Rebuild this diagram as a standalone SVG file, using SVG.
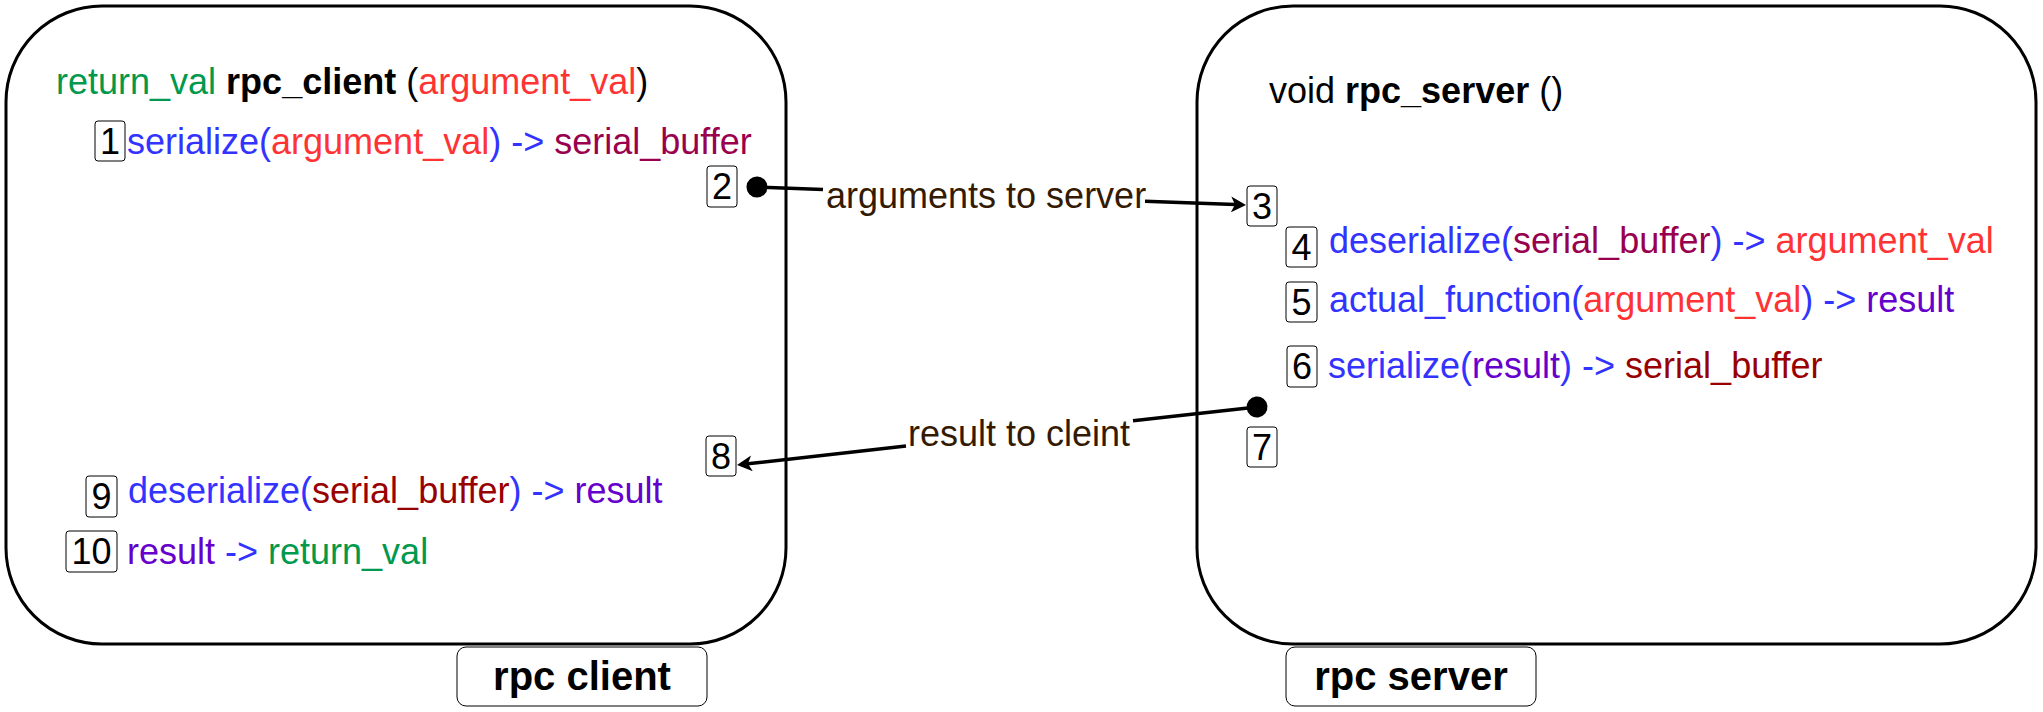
<svg xmlns="http://www.w3.org/2000/svg" width="2043" height="712" viewBox="0 0 2043 712">
<style>
text{font-family:"Liberation Sans",Arial,Helvetica,sans-serif;font-size:36px;fill:#000}
.frame{fill:#fff;stroke:#000;stroke-width:3}
.tag{fill:#fff;stroke:#000;stroke-width:1}
.num{fill:#fff;stroke:#000;stroke-width:1}
.n{text-anchor:middle}
.title{font-weight:bold;font-size:40px;text-anchor:middle}
.b{font-weight:bold}
.g{fill:#00994D}
.r{fill:#FF3333}
.bl{fill:#3333FF}
.m{fill:#99004D}
.dr{fill:#990000}
.p{fill:#6600CC}
.lbl{fill:#331A00}
.edge{fill:none;stroke:#000;stroke-width:3.5}
</style>
<defs>
<marker id="dot" markerUnits="userSpaceOnUse" markerWidth="22" markerHeight="22" refX="11" refY="11" orient="auto"><circle cx="11" cy="11" r="10.5" fill="#000"/></marker>
<marker id="arrow" markerUnits="userSpaceOnUse" markerWidth="16" markerHeight="16" refX="11" refY="8" orient="auto"><path d="M0,0 L15,8 L0,16 L4,8 Z" fill="#000"/></marker>
</defs>
<g id="client">
<rect class="frame" x="6" y="6" width="780" height="638" rx="96" ry="96"/>
<text x="56" y="94"><tspan class="g">return_val</tspan> <tspan class="b">rpc_client</tspan> (<tspan class="r">argument_val</tspan>)</text>
</g>
<g id="client-label">
<rect class="tag" x="457" y="647" width="250" height="59" rx="9" ry="9"/>
<text class="title" x="582" y="690">rpc client</text>
</g>
<g id="server">
<rect class="frame" x="1197" y="6" width="839" height="638" rx="96" ry="96"/>
<text x="1269" y="103">void <tspan class="b">rpc_server</tspan> ()</text>
</g>
<g id="server-label">
<rect class="tag" x="1286" y="647" width="250" height="59" rx="9" ry="9"/>
<text class="title" x="1411" y="690">rpc server</text>
</g>
<g id="step1">
<rect class="num" x="95" y="121" width="30" height="40" rx="3"/>
<text class="n" x="110" y="153.5">1</text>
<text x="127" y="154"><tspan class="bl">serialize(</tspan><tspan class="r">argument_val</tspan><tspan class="bl">) -&gt; </tspan><tspan class="m">serial_buffer</tspan></text>
</g>
<g id="step2">
<rect class="num" x="707" y="166" width="30" height="41" rx="3"/>
<text class="n" x="722" y="199">2</text>
</g>
<g id="step3">
<rect class="num" x="1247" y="186" width="30" height="40" rx="3"/>
<text class="n" x="1262" y="218.5">3</text>
</g>
<g id="step4">
<rect class="num" x="1286" y="227" width="31" height="40" rx="3"/>
<text class="n" x="1301.5" y="259.5">4</text>
<text x="1329" y="253"><tspan class="bl">deserialize(</tspan><tspan class="m">serial_buffer</tspan><tspan class="bl">) -&gt; </tspan><tspan class="r">argument_val</tspan></text>
</g>
<g id="step5">
<rect class="num" x="1286" y="282" width="31" height="40" rx="3"/>
<text class="n" x="1301.5" y="314.5">5</text>
<text x="1329" y="312"><tspan class="bl">actual_function(</tspan><tspan class="r">argument_val</tspan><tspan class="bl">) -&gt; </tspan><tspan class="p">result</tspan></text>
</g>
<g id="step6">
<rect class="num" x="1287" y="346" width="30" height="41" rx="3"/>
<text class="n" x="1302" y="379">6</text>
<text x="1328" y="378"><tspan class="bl">serialize(</tspan><tspan class="p">result</tspan><tspan class="bl">) -&gt; </tspan><tspan class="dr">serial_buffer</tspan></text>
</g>
<g id="step7">
<rect class="num" x="1247" y="427" width="30" height="40" rx="3"/>
<text class="n" x="1262" y="459.5">7</text>
</g>
<g id="step8">
<rect class="num" x="706" y="436" width="30" height="40" rx="3"/>
<text class="n" x="721" y="468.5">8</text>
</g>
<g id="step9">
<rect class="num" x="86" y="476" width="31" height="41" rx="3"/>
<text class="n" x="101.5" y="509">9</text>
<text x="128" y="503"><tspan class="bl">deserialize(</tspan><tspan class="dr">serial_buffer</tspan><tspan class="bl">) -&gt; </tspan><tspan class="p">result</tspan></text>
</g>
<g id="step10">
<rect class="num" x="66" y="531" width="51" height="41" rx="3"/>
<text class="n" x="91.5" y="564">10</text>
<text x="127" y="564"><tspan class="p">result</tspan><tspan class="bl"> -&gt; </tspan><tspan class="g">return_val</tspan></text>
</g>
<g id="connectors">
<path class="edge" d="M757,187 L823,189.4 M1145,201.3 L1242,204.85" marker-start="url(#dot)" marker-end="url(#arrow)"/>
<text class="lbl" x="826" y="208">arguments to server</text>
<path class="edge" d="M1257,407 L1133,420.8 M906,446.1 L741,464.56" marker-start="url(#dot)" marker-end="url(#arrow)"/>
<text class="lbl" x="908" y="446">result to cleint</text>
</g>
</svg>
